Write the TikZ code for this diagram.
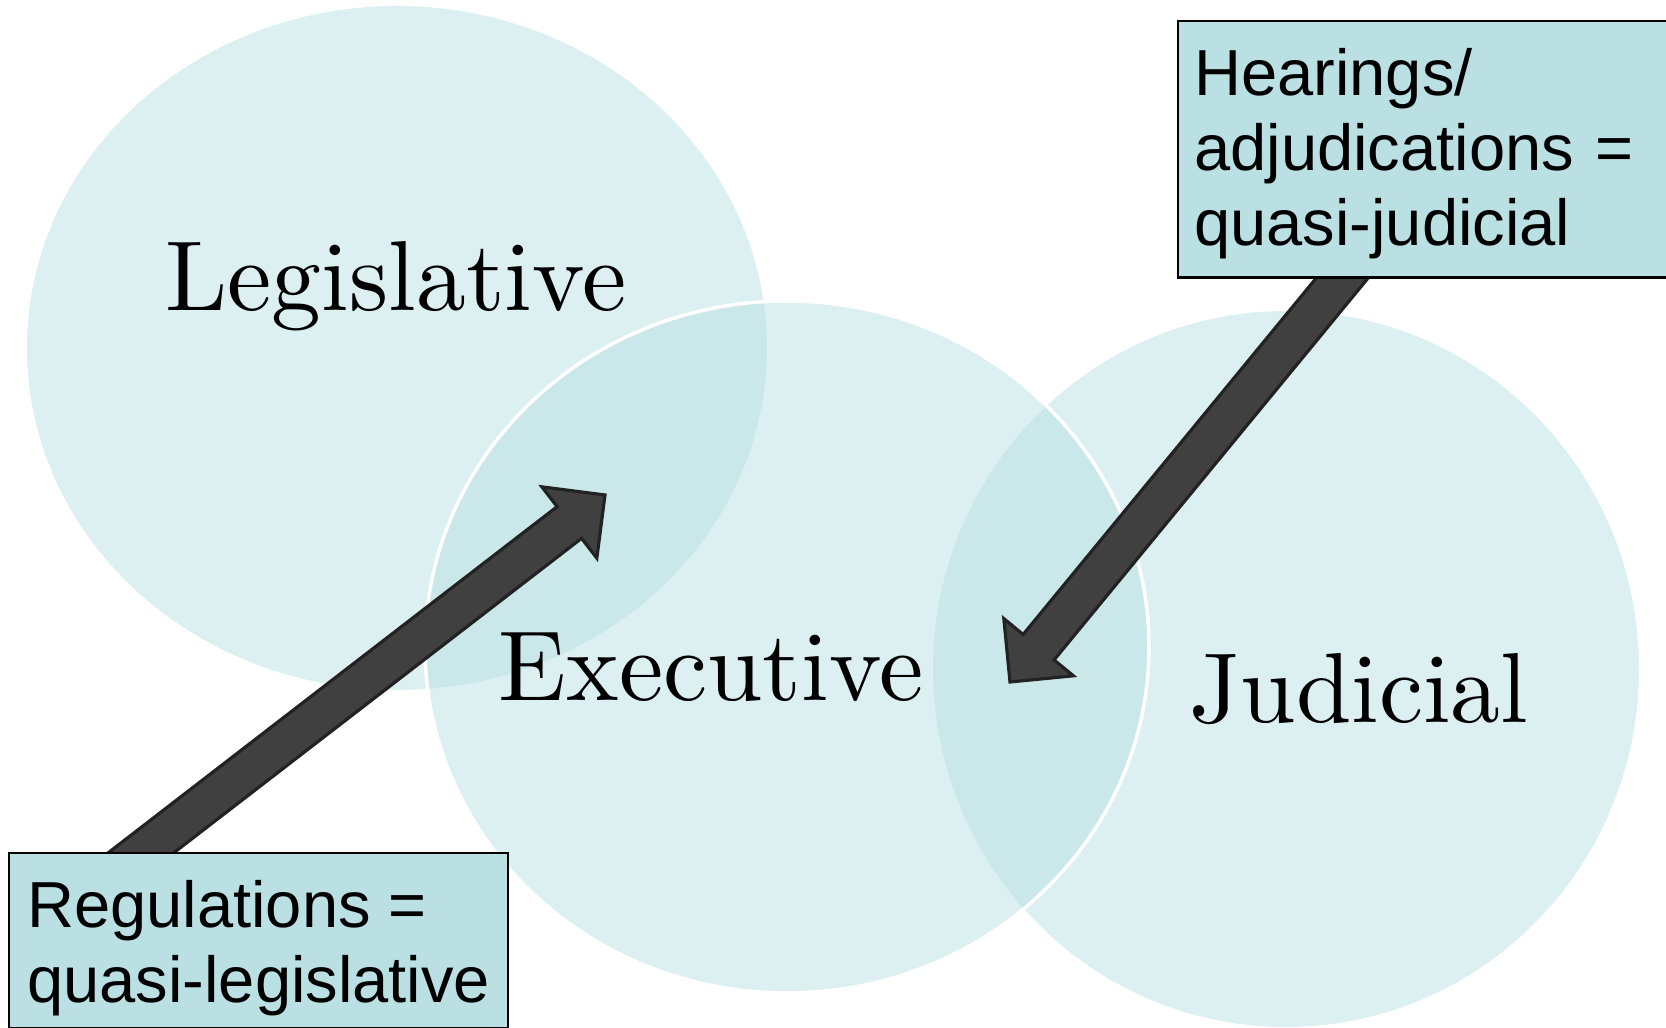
\documentclass[tikz,border=0pt]{standalone}
\usepackage{fontspec}
\setsansfont{Liberation Sans}
\newfontfamily\branchfont{lmroman10-regular.otf}
\usetikzlibrary{calc}
\usepackage{xcolor}
\definecolor{vennfill}{HTML}{B9DFE3}
\definecolor{notefill}{HTML}{BBE0E3}
\definecolor{arrowbody}{HTML}{404040}
\definecolor{arrowedge}{HTML}{222222}

% block arrow from #1 (tail) to #2 (tip)
\newcommand{\blockarrow}[2]{%
  \coordinate (#1-neck) at ($(#2)!0.45cm!(#1)$);
  \filldraw[fill=arrowbody, draw=arrowedge, line width=0.9pt, line join=miter]
    ($(#1)!0.2cm!90:(#2)$) -- ($(#1-neck)!0.2cm!90:(#2)$) -- ($(#1-neck)!0.45cm!90:(#2)$)
    -- (#2) -- ($(#1-neck)!0.45cm!-90:(#2)$) -- ($(#1-neck)!0.2cm!-90:(#2)$)
    -- ($(#1)!0.2cm!-90:(#2)$) -- cycle;}

\begin{document}
\begin{tikzpicture}[x=0.01cm, y=-0.01cm,
    branch/.style={fill=vennfill, fill opacity=0.5},
    branchname/.style={anchor=base, font=\branchfont\fontsize{28.3}{34}\selectfont},
    notebox/.style={draw=black, line width=0.7pt, fill=notefill, anchor=north west,
                    align=left, font=\sffamily\fontsize{18.5}{21.3}\selectfont}]
  \useasboundingbox (0,0) rectangle (1666,1028);
  % the three branches
  \fill[branch] (397,348) ellipse [x radius=370, y radius=342];
  \fill[branch] (787,647) ellipse [x radius=362, y radius=346];
  \fill[branch] (1286,669) ellipse [x radius=353, y radius=358];
  \draw[white, line width=1pt] (787,647) ellipse [x radius=362, y radius=346];
  \node[branchname] (legis) at (396,311) {Legislative};
  \node[branchname] (exec) at (711,701) {Executive};
  \node[branchname] (judic) at (1359,723) {Judicial};
  % arrows
  \coordinate (regtail) at (72,906);
  \coordinate (regtip) at (605,495);
  \coordinate (heartail) at (1394,215);
  \coordinate (heartip) at (1010,682);
  \blockarrow{regtail}{regtip}
  \blockarrow{heartail}{heartip}
  % boxes
  \node[notebox, inner xsep=0.18cm, minimum height=1.75cm] (regbox) at (8,852)
    {\rule{0pt}{17.7pt}Regulations =\\quasi-legislative};
  \node[notebox, inner xsep=0.16cm, text width=4.57cm, minimum height=2.56cm] (hearbox) at (1177,20)
    {\rule{0pt}{16pt}Hearings/\\adjudications =\\quasi-judicial};
\end{tikzpicture}
\end{document}
